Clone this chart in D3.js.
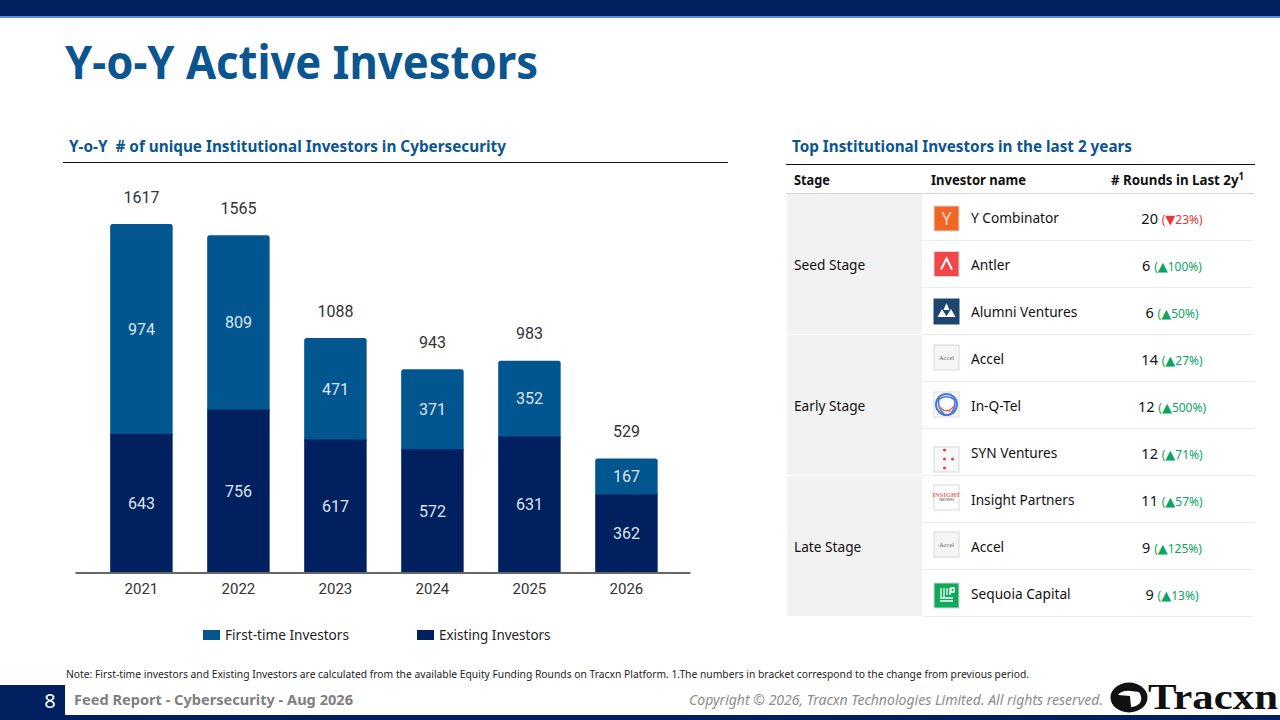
<!DOCTYPE html>
<html>
<head>
<meta charset="utf-8">
<title>Y-o-Y Active Investors</title>
<script src="https://cdn.jsdelivr.net/npm/d3@7"></script>
<style>
  html, body { margin: 0; padding: 0; background: #fff; }
  svg { display: block; font-family: "Noto Sans", "Open Sans", sans-serif; }
  .roboto { font-family: Roboto, sans-serif; }
</style>
</head>
<body>
<svg id="page" width="1280" height="720" viewBox="0 0 1280 720"></svg>
<script>
// chart data
const years = ["2021", "2022", "2023", "2024", "2025", "2026"];
const firstTime = [974, 809, 471, 371, 352, 167];
const existing = [643, 756, 617, 572, 631, 362];
const totals = [1617, 1565, 1088, 943, 983, 529];
const seriesNames = ["First-time Investors", "Existing Investors"];

// table data
const stages = ["Seed Stage", "Early Stage", "Late Stage"];
const investorNames = ["Y Combinator", "Antler", "Alumni Ventures", "Accel", "In-Q-Tel", "SYN Ventures", "Insight Partners", "Accel", "Sequoia Capital"];
const investorRounds = [20, 6, 6, 14, 12, 12, 11, 9, 9];
const roundChanges = [-23, 100, 50, 27, 500, 71, 57, 125, 13];
const logoKinds = ["yc", "antler", "alumni", "accel", "inqtel", "syn", "insight", "accel", "sequoia"];
const logoTops = [12, 10.5, 11, 10, 10, 18, 9, 9, 13];

const navy = "#002060";
const blue = "#02568f";
const svg = d3.select("#page");

// page furniture
svg.append("rect").attr("width", 1280).attr("height", 16).attr("fill", navy);
svg.append("rect").attr("y", 16).attr("width", 1280).attr("height", 2).attr("fill", "#5b8fdc");
svg.append("text").attr("x", 65).attr("y", 79)
  .attr("font-size", 47).attr("font-weight", 700).attr("fill", "#0b5590")
  .attr("textLength", 473).attr("lengthAdjust", "spacingAndGlyphs")
  .text("Y-o-Y Active Investors");

function sectionTitle(txt, tx, w, x1, x2, ly) {
  svg.append("text").attr("x", tx).attr("y", 152)
    .attr("font-size", 16).attr("font-weight", 700).attr("fill", "#0b5590")
    .attr("textLength", w).attr("lengthAdjust", "spacingAndGlyphs")
    .style("white-space", "pre").text(txt);
  svg.append("line").attr("x1", x1).attr("x2", x2).attr("y1", ly).attr("y2", ly)
    .attr("stroke", "#111").attr("stroke-width", 1);
}
sectionTitle("Y-o-Y  # of unique Institutional Investors in Cybersecurity", 69, 437, 63, 728, 162.5);
sectionTitle("Top Institutional Investors in the last 2 years", 792, 340, 786, 1255, 164.5);

// stacked bars
const x = d3.scaleBand().domain(years).range([75, 690]).paddingInner(0.356).paddingOuter(0.348).align(0.521);
const y = d3.scaleLinear().domain([0, 1617]).range([572.5, 224]);

const chart = svg.append("g");
const stackedRows = years.map((year, i) => ({ year, existing: existing[i], first: firstTime[i], total: totals[i] }));

function topRounded(x0, y0, w, h, r) {
  const p = d3.path();
  p.moveTo(x0, y0 + h);
  p.lineTo(x0, y0 + r);
  p.arcTo(x0, y0, x0 + r, y0, r);
  p.lineTo(x0 + w - r, y0);
  p.arcTo(x0 + w, y0, x0 + w, y0 + r, r);
  p.lineTo(x0 + w, y0 + h);
  p.closePath();
  return p.toString();
}

// the blue part runs under the navy part so no seam shows between them
chart.selectAll(".first").data(stackedRows).join("path")
  .attr("class", "first")
  .attr("d", d => topRounded(x(d.year), y(d.total), x.bandwidth(), y(d.existing) - y(d.total) + 1, 2.5))
  .attr("fill", blue);

chart.selectAll(".existing").data(stackedRows).join("rect")
  .attr("class", "existing")
  .attr("x", d => x(d.year)).attr("width", x.bandwidth())
  .attr("y", d => y(d.existing)).attr("height", d => y(0) - y(d.existing))
  .attr("fill", navy);

const axis = chart.append("g").attr("class", "roboto")
  .attr("transform", `translate(0,${y(0)})`)
  .call(d3.axisBottom(x).tickSize(0).tickPadding(11));
axis.select(".domain").attr("stroke", "#666").attr("stroke-width", 2);
axis.selectAll("text").attr("font-size", 15).attr("font-family", "Roboto, sans-serif").attr("fill", "#333");

const valueLabel = (cls, yFn, textFn, fill) => chart.selectAll("." + cls).data(stackedRows).join("text")
  .attr("class", cls + " roboto")
  .attr("x", d => x(d.year) + x.bandwidth() / 2)
  .attr("y", yFn)
  .attr("dy", "0.36em")
  .attr("text-anchor", "middle")
  .attr("font-size", 16)
  .attr("fill", fill)
  .text(textFn);

valueLabel("lab-exist", d => y(d.existing / 2), d => d.existing, "#dfe5ee");
valueLabel("lab-first", d => y(d.existing + d.first / 2), d => d.first, "#dfe5ee");
valueLabel("lab-total", d => y(d.total) - 27, d => d.total, "#333");

// legend
const legend = svg.append("g").selectAll("g").data(seriesNames).join("g")
  .attr("transform", (d, i) => `translate(${[203, 417][i]},630)`);
legend.append("rect").attr("width", 17).attr("height", 10).attr("fill", (d, i) => [blue, navy][i]);
legend.append("text").attr("x", 22).attr("y", 10).attr("font-size", 14).attr("fill", "#222")
  .attr("textLength", (d, i) => [124, 111.5][i]).attr("lengthAdjust", "spacingAndGlyphs").text(d => d);

// table
const rowScale = d3.scaleBand().domain(d3.range(investorNames.length)).range([194, 617]);
const table = svg.append("g");

const headerY = 185;
[["Stage", 794, 36], ["Investor name", 931, 95]].forEach(([t, hx, w]) => {
  table.append("text").attr("x", hx).attr("y", headerY)
    .attr("font-size", 14).attr("font-weight", 700).attr("fill", "#111")
    .attr("textLength", w).attr("lengthAdjust", "spacingAndGlyphs").text(t);
});
const roundsHead = table.append("text").attr("x", 1111).attr("y", headerY)
  .attr("font-size", 14).attr("font-weight", 700).attr("fill", "#111")
  .attr("textLength", 133).attr("lengthAdjust", "spacingAndGlyphs");
roundsHead.append("tspan").text("# Rounds in Last 2y");
roundsHead.append("tspan").attr("dy", -5).attr("font-size", 10).text("1");
table.append("line").attr("x1", 786).attr("x2", 1254).attr("y1", 193.5).attr("y2", 193.5)
  .attr("stroke", "#d4d4d4");

// stage blocks, three rows each
table.selectAll(".stage").data(stages).join("rect")
  .attr("class", "stage")
  .attr("x", 787).attr("width", 135)
  .attr("y", (d, i) => rowScale(i * 3))
  .attr("height", rowScale.step() * 3 - 1)
  .attr("fill", "#f2f2f2");
table.selectAll(".stage-name").data(stages).join("text")
  .attr("class", "stage-name")
  .attr("x", 794)
  .attr("y", (d, i) => rowScale(i * 3) + rowScale.step() * 1.5 + 0.5)
  .attr("dy", "0.35em")
  .attr("font-size", 13.7).attr("fill", "#111").text(d => d);

const rows = table.selectAll(".row").data(investorNames).join("g")
  .attr("class", "row")
  .attr("transform", (d, i) => `translate(0,${rowScale(i)})`);
rows.append("line").attr("x1", 922).attr("x2", 1254).attr("y1", 46.5).attr("y2", 46.5)
  .attr("stroke", "#ececec");
rows.append("text").attr("x", 971).attr("y", 24.5).attr("dy", "0.35em")
  .attr("font-size", 13.7).attr("fill", "#111").text(d => d);

const roundCell = rows.append("text").attr("x", 1172).attr("y", 24).attr("dy", "0.35em").attr("text-anchor", "middle");
roundCell.append("tspan").attr("font-size", 14.5).attr("fill", "#111").text((d, i) => investorRounds[i] + " ");
const changeColor = (d, i) => roundChanges[i] < 0 ? "#ee3333" : "#0aa560";
roundCell.append("tspan").attr("font-size", 12).attr("fill", changeColor).text("(");
roundCell.append("tspan").attr("font-size", 13).attr("font-family", "DejaVu Sans").attr("fill", changeColor)
  .text((d, i) => roundChanges[i] < 0 ? "▼" : "▲");
roundCell.append("tspan").attr("font-size", 12).attr("fill", changeColor)
  .text((d, i) => `${Math.abs(roundChanges[i])}%)`);

// logos, small marks beside each investor name
const logos = rows.append("g").attr("transform", (d, i) => `translate(934,${logoTops[i]})`);
logos.each(function (d, i) {
  const g = d3.select(this);
  const kind = logoKinds[i];
  const tile = (fill, stroke) => g.append("rect").attr("x", 0).attr("y", 0).attr("width", 25).attr("height", 25)
    .attr("fill", fill).attr("stroke", stroke || "#d8d8d8").attr("stroke-width", 1);
  const mono = (t, size, fill, family, weight) => g.append("text").attr("x", 12.5).attr("y", 12.5).attr("dy", "0.35em")
    .attr("text-anchor", "middle").attr("font-size", size).attr("fill", fill)
    .attr("font-family", family || "Noto Sans").attr("font-weight", weight || 400).text(t);
  if (kind === "yc") { tile("#f26625"); mono("Y", 18, "#fbd9c6"); }
  if (kind === "antler") {
    tile("#f04848");
    g.append("path").attr("d", "M7 18 L12.5 7 L18 18").attr("fill", "none").attr("stroke", "#fff").attr("stroke-width", 2);
  }
  if (kind === "alumni") {
    tile("#1c4570", "#1c4570");
    g.append("path").attr("d", "M12.5 4 L15.5 11 L9.5 11 Z M8 10 L13 18 L3.5 18 Z M17 10 L21.5 18 L12 18 Z").attr("fill", "#fff");
  }
  if (kind === "accel") { tile("#f5f5f5"); mono("Accel", 6.5, "#666", "Liberation Serif"); }
  if (kind === "inqtel") {
    tile("#fff");
    g.append("circle").attr("cx", 12.5).attr("cy", 12.5).attr("r", 10.5).attr("fill", "none").attr("stroke", "#4a78d8").attr("stroke-width", 2);
    // crossing arcs of the mark: blue on top, red below
    g.append("path").attr("d", "M3 9 Q12 1 21 8 M5 6 Q3 16 10 22 M20 6 Q23 15 17 21").attr("fill", "none").attr("stroke", "#4a78d8").attr("stroke-width", 1.6);
    g.append("path").attr("d", "M6 15 Q13 23 20 14 M9 19 L17 10 M16 20 L8 11").attr("fill", "none").attr("stroke", "#e8604a").attr("stroke-width", 1.3);
    g.append("circle").attr("cx", 12.5).attr("cy", 12.5).attr("r", 5.5).attr("fill", "#fff");
  }
  if (kind === "syn") {
    tile("#f8f8f8");
    [[10.5, 3], [10.5, 12], [18.5, 12], [10.5, 21]].forEach(p => g.append("circle").attr("cx", p[0]).attr("cy", p[1]).attr("r", 1.5).attr("fill", "#ee3b3b"));
  }
  if (kind === "insight") {
    tile("#fff");
    g.append("text").attr("x", 12.5).attr("y", 12).attr("text-anchor", "middle").attr("font-size", 6.5).attr("font-weight", 700)
      .attr("font-family", "Liberation Serif").attr("fill", "#ee6a60").text("INSIGHT");
    g.append("text").attr("x", 12.5).attr("y", 16).attr("text-anchor", "middle").attr("font-size", 3)
      .attr("fill", "#555").text("PARTNERS");
  }
  if (kind === "sequoia") {
    tile("#10a95b");
    g.append("path").attr("d", "M7 5v9M10 5v9M13 5v7M16 5v7M6 18h13M6 15h13M17 5h3v4h-3z").attr("fill", "none").attr("stroke", "#fff").attr("stroke-width", 1.3);
  }
});

// footer
svg.append("text").attr("x", 66).attr("y", 678).attr("font-size", 10.4).attr("fill", "#222")
  .attr("textLength", 963).attr("lengthAdjust", "spacingAndGlyphs")
  .text("Note: First-time investors and Existing Investors are calculated from the available Equity Funding Rounds on Tracxn Platform. 1.The numbers in bracket correspond to the change from previous period.");
svg.append("rect").attr("y", 685).attr("width", 65).attr("height", 35).attr("fill", navy);
svg.append("rect").attr("y", 715).attr("width", 1280).attr("height", 5).attr("fill", navy);
svg.append("text").attr("x", 50).attr("y", 708).attr("text-anchor", "middle").attr("font-size", 20).attr("fill", "#fff").text("8");
svg.append("text").attr("x", 74).attr("y", 705).attr("font-size", 14.5).attr("font-weight", 700).attr("fill", "#7f7f7f")
  .attr("textLength", 279).attr("lengthAdjust", "spacingAndGlyphs")
  .text("Feed Report - Cybersecurity - Aug 2026");
svg.append("text").attr("x", 689).attr("y", 705).attr("font-size", 14).attr("font-style", "italic").attr("fill", "#8c8c8c")
  .attr("textLength", 414).attr("lengthAdjust", "spacingAndGlyphs")
  .text("Copyright © 2026, Tracxn Technologies Limited. All rights reserved.");

// Tracxn wordmark
svg.append("ellipse").attr("cx", 1129).attr("cy", 697.5).attr("rx", 18.5).attr("ry", 15).attr("fill", "#111");
svg.append("path").attr("d", "M1118 695 Q1122 690 1131 691 L1139 692 Q1143 698 1140 703 Q1136 707 1131 707 L1130 696 Z").attr("fill", "#fff");
svg.append("text").attr("x", 1148).attr("y", 709).attr("font-size", 36).attr("font-weight", 700)
  .attr("font-family", "Liberation Serif").attr("fill", "#111")
  .attr("textLength", 130).attr("lengthAdjust", "spacingAndGlyphs").text("Tracxn");
</script>
</body>
</html>
